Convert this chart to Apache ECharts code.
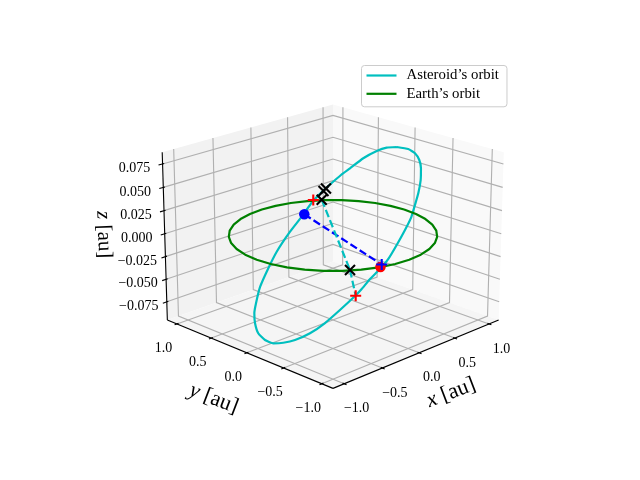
<!DOCTYPE html>
<html><head><meta charset="utf-8">
<style>html,body{margin:0;padding:0;background:#fff}#chart{width:640px;height:480px}</style>
<script src="https://cdn.jsdelivr.net/npm/echarts@6/dist/echarts.min.js"></script>
</head><body><div id="chart"></div>
<script>
// Heliocentric coordinates in au.
const asteroidX = [0.784,0.811,0.807,0.778,0.730,0.654,0.561,0.475,0.387,0.283,0.161,0.045,-0.046,-0.143,-0.233,-0.300,-0.439,-0.571,-0.688,-0.784,-0.844,-0.886,-0.898,-0.885,-0.838,-0.781,-0.715,-0.601,-0.456,-0.322,-0.147,-0.009,0.132,0.243,0.301,0.402,0.478,0.591,0.687,0.744,0.784];
const asteroidY = [-0.091,-0.219,-0.312,-0.396,-0.463,-0.531,-0.588,-0.626,-0.662,-0.679,-0.688,-0.691,-0.670,-0.634,-0.614,-0.592,-0.531,-0.465,-0.383,-0.280,-0.183,-0.090,0.011,0.118,0.212,0.282,0.328,0.391,0.427,0.449,0.443,0.422,0.408,0.367,0.342,0.292,0.243,0.173,0.084,0.005,-0.091];
const asteroidZ = [0.0765,0.0767,0.0744,0.0699,0.0638,0.0548,0.0443,0.0350,0.0254,0.0148,0.0023,-0.0093,-0.0180,-0.0270,-0.0356,-0.0418,-0.0545,-0.0665,-0.0765,-0.0840,-0.0881,-0.0904,-0.0896,-0.0861,-0.0796,-0.0725,-0.0649,-0.0523,-0.0370,-0.0232,-0.0058,0.0075,0.0214,0.0317,0.0369,0.0460,0.0527,0.0626,0.0703,0.0745,0.0765];
const earthX = [1,0.985,0.940,0.866,0.766,0.643,0.5,0.342,0.174,0,-0.174,-0.342,-0.5,-0.643,-0.766,-0.866,-0.940,-0.985,-1,-0.985,-0.940,-0.866,-0.766,-0.643,-0.5,-0.342,-0.174,0,0.174,0.342,0.5,0.643,0.766,0.866,0.940,0.985,1];
const earthY = [0,0.174,0.342,0.5,0.643,0.766,0.866,0.940,0.985,1,0.985,0.940,0.866,0.766,0.643,0.5,0.342,0.174,0,-0.174,-0.342,-0.5,-0.643,-0.766,-0.866,-0.940,-0.985,-1,-0.985,-0.940,-0.866,-0.766,-0.643,-0.5,-0.342,-0.174,0];
const blueDot = [0.016,0.411,0.0098];
const bluePlus = [-0.012,-0.660,-0.0145];
const redDot = [-0.327,-0.943,0];
const redPlusA = [0.140,0.412,0.0222];
const redPlusB = [-0.296,-0.597,-0.0415];
const crossA = [0.260,0.357,0.0332];
const crossB = [0.235,0.366,0.0308];
const crossC = [0.632,0.793,0];
const crossD = [-0.579,-0.799,0];
const xTicks = [-1,-0.5,0,0.5,1];
const yTicks = [-1,-0.5,0,0.5,1];
const zTicks = [-0.075,-0.05,-0.025,0,0.025,0.05,0.075];
const xTickLabels = ['−1.0','−0.5','0.0','0.5','1.0'];
const yTickLabels = ['−1.0','−0.5','0.0','0.5','1.0'];
const zTickLabels = ['−0.075','−0.050','−0.025','0.000','0.025','0.050','0.075'];

// Axis limits of the plot box and the camera.
const L = 1.143, zMin = -0.0953, zMax = 0.0873;
const elev = 20 * Math.PI / 180, azim = -135 * Math.PI / 180, dist = 10;
const boxXY = 1.1905, boxZ = 0.8929;
const FONT = '"Liberation Serif","Times New Roman",serif';

const eye = [Math.cos(elev)*Math.cos(azim), Math.cos(elev)*Math.sin(azim), Math.sin(elev)];
const right = [-Math.sin(azim), Math.cos(azim), 0];
const up = [-Math.sin(elev)*Math.cos(azim), -Math.sin(elev)*Math.sin(azim), Math.cos(elev)];
const dot = (a, b) => a[0]*b[0] + a[1]*b[1] + a[2]*b[2];

// Perspective projection of an (x, y, z) point onto the view plane.
function project(p) {
  const b = [p[0]/(2*L)*boxXY, p[1]/(2*L)*boxXY, (p[2]-(zMin+zMax)/2)/(zMax-zMin)*boxZ];
  const w = dist - dot(b, eye);
  return [dot(b, right)/w, dot(b, up)/w];
}
const path3 = (xs, ys, zs) => xs.map((x, i) => project([x, ys[i], zs ? zs[i] : 0]));

// Wall and floor polygons.
const panes = [
  {fill:'#f2f2f2', pts:[[-L,L,zMin],[L,L,zMin],[L,L,zMax],[-L,L,zMax]]},
  {fill:'#f9f9f9', pts:[[L,L,zMin],[L,-L,zMin],[L,-L,zMax],[L,L,zMax]]},
  {fill:'#f5f5f5', pts:[[-L,-L,zMin],[L,-L,zMin],[L,L,zMin],[-L,L,zMin]]}
];

// Grid polylines across floor and walls.
const gridPaths = [];
xTicks.forEach(t => gridPaths.push([[t,-L,zMin],[t,L,zMin],[t,L,zMax]]));
yTicks.forEach(t => gridPaths.push([[-L,t,zMin],[L,t,zMin],[L,t,zMax]]));
zTicks.forEach(t => gridPaths.push([[-L,L,t],[L,L,t],[L,-L,t]]));

// Axis lines and tick marks.
const axisPaths = [
  [[-L,-L,zMin],[L,-L,zMin]],
  [[-L,-L,zMin],[-L,L,zMin]],
  [[-L,L,zMin],[-L,L,zMax]]
];
xTicks.forEach(t => axisPaths.push([[t,-L+0.02,zMin],[t,-L-0.03,zMin]]));
yTicks.forEach(t => axisPaths.push([[-L+0.02,t,zMin],[-L-0.03,t,zMin]]));
zTicks.forEach(t => axisPaths.push([[-L+0.02,L,t],[-L-0.05,L,t]]));

// Text anchored to a tick, shifted by a pixel offset.
const texts = [];
xTicks.forEach((t,i) => texts.push({p:[t,-L,zMin], dx:12.5, dy:25, s:xTickLabels[i], size:14, rot:0}));
yTicks.forEach((t,i) => texts.push({p:[-L,t,zMin], dx:-13.5, dy:24.5, s:yTickLabels[i], size:14, rot:0}));
zTicks.forEach((t,i) => texts.push({p:[-L,L,t], dx:-28, dy:4.5, s:zTickLabels[i], size:14, rot:0}));
texts.push({p:[0,-L,zMin], dx:32, dy:40, s:'{i|x} [au]', size:22, rot:21});
texts.push({p:[-L,0,zMin], dx:-33, dy:46, s:'{i|y} [au]', size:22, rot:-21});
texts.push({p:[-L,L,0], dx:-61, dy:1, s:'{i|z} [au]', size:21, rot:-88});

const staticSeries = (name, z, data, render) => ({
  type:'custom', coordinateSystem:'cartesian2d', silent:true, z, clip:false,
  encode:{x:0, y:1}, data:data.map((_, i) => [0, 0, i]), renderItem:render
});
const toPts = (pts, api) => pts.map(c => api.coord(project(c)));

const mark = (name, pts, symbol, size, color, z, stroke) => ({
  type:'scatter', name, data:pts.map(project), symbol, symbolSize:size, z, silent:true, clip:false,
  itemStyle: stroke ? {color:'transparent', borderColor:color, borderWidth:2.1, opacity:1} : {color, opacity:1}
});
const dashed = (name, a, b, color, z) => ({
  type:'line', name, data:[project(a), project(b)], symbol:'none', z, silent:true, clip:false,
  lineStyle:{color, width:2.2, type:[7.7,3.3]}
});
const PLUS = 'path://M0 5H10M5 0V10', CROSS = 'path://M0 0L10 10M0 10L10 0';

const option = {
  animation:false,
  backgroundColor:'#fff',
  grid:{left:143.2, top:57.6, width:369.6, height:369.6, containLabel:false},
  xAxis:{type:'value', min:-0.095, max:0.09, show:false},
  yAxis:{type:'value', min:-0.095, max:0.09, show:false},
  legend:{
    left:361.5, top:65.5, orient:'vertical', padding:[2,8,5,5], itemGap:2.3, itemWidth:30, itemHeight:2.2, icon:'rect',
    data:['Asteroid’s orbit','Earth’s orbit'], selectedMode:false,
    backgroundColor:'rgba(255,255,255,0.8)', borderColor:'#cccccc', borderWidth:1, borderRadius:3,
    textStyle:{fontFamily:FONT, fontSize:14.8, color:'#000', padding:[0,0,0,5], lineHeight:16}
  },
  series:[
    staticSeries('panes', 1, panes, (params, api) => {
      const d = panes[params.dataIndex];
      return {type:'polygon', shape:{points:toPts(d.pts, api)}, style:{fill:d.fill}};
    }),
    staticSeries('grid', 2, gridPaths, (params, api) => ({
      type:'polyline', shape:{points:toPts(gridPaths[params.dataIndex], api)},
      style:{fill:null, stroke:'#b0b0b0', lineWidth:1.11}
    })),
    staticSeries('axes', 3, axisPaths, (params, api) => ({
      type:'polyline', shape:{points:toPts(axisPaths[params.dataIndex], api)},
      style:{fill:null, stroke:'#000', lineWidth:1.11}
    })),
    staticSeries('text', 4, texts, (params, api) => {
      const d = texts[params.dataIndex], c = api.coord(project(d.p));
      return {type:'text', x:c[0]+d.dx, y:c[1]+d.dy, rotation:d.rot*Math.PI/180, silent:true,
        style:{text:d.s, fill:'#000', font:d.size+'px '+FONT, align:'center', verticalAlign:'middle',
          rich:{i:{fontStyle:'italic', fontFamily:FONT, fontSize:d.size}}}};
    }),
    {type:'line', name:'Asteroid’s orbit', data:path3(asteroidX, asteroidY, asteroidZ), symbol:'none', smooth:0.15, z:5, silent:true, clip:false,
      lineStyle:{color:'#00bfbf', width:2.2}, itemStyle:{color:'#00bfbf'}},
    {type:'line', name:'Earth’s orbit', data:path3(earthX, earthY), symbol:'none', z:6, silent:true, clip:false,
      lineStyle:{color:'#008000', width:2.2}, itemStyle:{color:'#008000'}},
    dashed('approachBlue', blueDot, bluePlus, '#0000ff', 7),
    dashed('approachCyanA', crossC, crossD, '#00bfbf', 7),
    dashed('approachCyanB', crossD, redPlusB, '#00bfbf', 7),
    mark('redDot', [redDot], 'circle', 10.5, '#ff0000', 8),
    mark('blueDot', [blueDot], 'circle', 10.5, '#0000ff', 8),
    mark('redPlus', [redPlusA, redPlusB], PLUS, 11, '#ff0000', 9, true),
    mark('bluePlus', [bluePlus], PLUS, 11, '#0000ff', 9, true),
    mark('cross', [crossA, crossB, crossC, crossD], CROSS, 10, '#000000', 9, true)
  ]
};
echarts.init(document.getElementById('chart'), null, {renderer:'canvas'}).setOption(option);
</script></body></html>
